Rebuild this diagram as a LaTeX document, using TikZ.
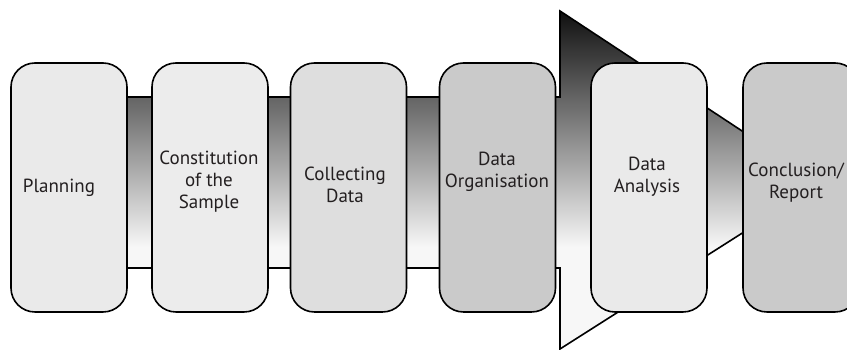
\documentclass[tikz,border=0pt]{standalone}
\usepackage{fontspec}
\setmainfont{PT Sans}
\usetikzlibrary{positioning}
\definecolor{stagelight}{RGB}{234,234,234}
\definecolor{stagepale}{RGB}{236,236,236}
\definecolor{stagemid}{RGB}{222,222,222}
\definecolor{stagedark}{RGB}{202,202,202}
\definecolor{labelblack}{RGB}{35,31,32}
% shaft and head share one vertical shade: black at the top, pale below
\pgfdeclareverticalshading{arrowshade}{100bp}{color(0bp)=(gray!6); color(40bp)=(gray!6); color(75bp)=(black!94); color(100bp)=(black!94)}

\begin{document}
\begin{tikzpicture}[x=1pt, y=1pt,
  stagebox/.style={draw=black, line width=1.6pt, rounded corners=24pt,
    minimum width=116pt, minimum height=249pt, inner sep=0pt},
  stagetext/.style={text=labelblack, align=center, inner sep=0pt,
    font=\fontsize{19}{22}\selectfont}]
\useasboundingbox (0,0) rectangle (847,350);

% Big arrow behind the stages (shaft y 82..253, head from x=560 to tip at 821)
\draw[shade, shading=arrowshade, draw=black, line width=1.6pt, line join=miter]
  (60,82) -- (60,253) -- (560,253) -- (560,339) -- (821,167) -- (560,1) -- (560,82) -- cycle;

% Stages
\node[stagebox, fill=stagelight] (planning)   at (69,162.5)    {};
\node[stagebox, fill=stagepale]  (sample)     at (210,162.5)   {};
\node[stagebox, fill=stagemid]   (collecting) at (348.5,162.5) {};
\node[stagebox, fill=stagedark]  (organising) at (497.5,162.5) {};
\node[stagebox, fill=stagelight] (analysis)   at (649,162.5)   {};
\node[stagebox, fill=stagedark]  (report)     at (801,162.5)   {};

% Labels, not all of them centred in their box
\node[stagetext] (planningtext)   at (59,162)    {Planning};
\node[stagetext] (sampletext)     at (209,168)   {Constitution\\of the\\Sample};
\node[stagetext] (collectingtext) at (345,165.5) {Collecting\\Data};
\node[stagetext] (organisingtext) at (497,178)   {Data\\Organisation};
\node[stagetext] (analysistext)   at (647,173)   {Data\\Analysis};
\node[stagetext] (reporttext)     at (796,167)   {Conclusion/\\Report};
\end{tikzpicture}
\end{document}
